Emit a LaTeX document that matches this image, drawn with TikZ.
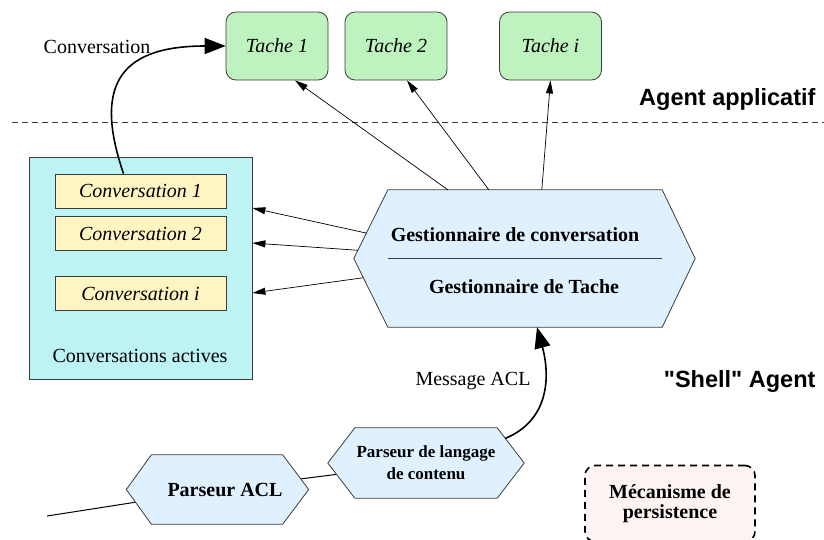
\documentclass[tikz,border=0pt]{standalone}
\usepackage{fontspec}
\setmainfont{Liberation Serif}
\newfontfamily\labelsans{Liberation Sans}
\usetikzlibrary{arrows.meta,calc,backgrounds}
\pgfdeclarelayer{edges}
\pgfsetlayers{edges,background,main}

\definecolor{taskgreen}{RGB}{190,242,190}
\definecolor{convyellow}{RGB}{255,245,195}
\definecolor{activecyan}{RGB}{190,243,243}
\definecolor{hexblue}{RGB}{223,241,255}
\definecolor{persistpink}{RGB}{253,243,243}
\definecolor{edgegray}{RGB}{60,60,60}

\begin{document}
\begin{tikzpicture}[x=1pt,y=-1pt,
  every node/.style={font=\fontsize{20}{24}\selectfont},
  task/.style={draw=edgegray, fill=taskgreen, rounded corners=10pt,
    minimum width=102pt, minimum height=68pt, line width=0.8pt,
    font=\fontsize{20}{24}\selectfont\itshape},
  conv/.style={draw=edgegray, fill=convyellow, minimum width=171pt,
    minimum height=34pt, inner sep=0pt, line width=0.8pt,
    font=\fontsize{20}{24}\selectfont\itshape},
  hexcore/.style={inner sep=0pt},
  hexfill/.style={draw=edgegray, fill=hexblue, line width=0.8pt},
  side label/.style={anchor=east, font=\labelsans\bfseries\fontsize{23.5}{28}\selectfont},
  thin arrow/.style={-{Triangle[length=13pt,width=7pt]}, line width=0.7pt},
  thick arrow/.style={-{Triangle[length=21pt,width=16pt]}, line width=1.6pt},
  plain edge/.style={line width=1pt},
]
\useasboundingbox (0,0) rectangle (824,539);

% application agent: tasks
\node[task] (t1) at (277,46) {Tache 1};
\node[task] (t2) at (396,46) {Tache 2};
\node[task] (ti) at (550.5,46) {Tache i};

% boundary between the application agent and the shell agent
\draw[edgegray, line width=0.8pt, dash pattern=on 6pt off 4pt] (12,122) -- (824,122);
\node[side label] (applabel) at (819,99) {Agent applicatif};
\node[side label] (shelllabel) at (819,381) {\char"22 Shell\char"22{} Agent};

% active conversations
\node[draw=edgegray, fill=activecyan, line width=0.8pt,
      minimum width=223pt, minimum height=222pt] (active) at (140.5,268) {};
\node[conv] (c1) at (140.5,191) {Conversation 1};
\node[conv] (c2) at (140.5,233.5) {Conversation 2};
\node[conv] (ci) at (140.5,293.5) {Conversation i};
\node (activelabel) at (140,356) {Conversations actives};

% conversation and task manager
\node[hexcore, minimum width=274pt, minimum height=137pt] (gest) at (525,258.5) {};
\coordinate (gestL) at ([xshift=-34pt]gest.west);
\coordinate (gestR) at ([xshift=33pt]gest.east);
\begin{pgfonlayer}{background}
  \draw[hexfill] (gest.north west) -- (gest.north east) -- (gestR)
    -- (gest.south east) -- (gest.south west) -- (gestL) -- cycle;
\end{pgfonlayer}
\node[font=\fontsize{20}{24}\selectfont\bfseries] (gconv) at (515,235) {Gestionnaire de conversation};
\node[font=\fontsize{20}{24}\selectfont\bfseries] (gtask) at (524,287) {Gestionnaire de Tache};
\draw[edgegray, line width=0.8pt] (gest.west) -- (gest.east);

% parsers
\node[hexcore, minimum width=142pt, minimum height=70pt, align=center,
      font=\fontsize{17}{22}\selectfont\bfseries] (lang) at (426,463)
      {Parseur de langage\\de contenu};
\coordinate (langL) at ([xshift=-27pt]lang.west);
\coordinate (langR) at ([xshift=27pt]lang.east);
\node[hexcore, minimum width=120pt, minimum height=69pt,
      font=\fontsize{20}{24}\selectfont\bfseries] (acl) at (217,489.5)
      {\hspace*{16pt}Parseur ACL};
\coordinate (aclL) at ([xshift=-25pt]acl.west);
\coordinate (aclR) at ([xshift=26pt]acl.east);
\begin{pgfonlayer}{background}
  \draw[hexfill] (lang.north west) -- (lang.north east) -- (langR)
    -- (lang.south east) -- (lang.south west) -- (langL) -- cycle;
  \draw[hexfill] (acl.north west) -- (acl.north east) -- (aclR)
    -- (acl.south east) -- (acl.south west) -- (aclL) -- cycle;
\end{pgfonlayer}

% persistence
\node[draw=black, fill=persistpink, rounded corners=10pt, line width=1.6pt,
      dash pattern=on 7pt off 5pt, minimum width=170pt, minimum height=76pt,
      align=center, font=\fontsize{20}{19.5}\selectfont\bfseries]
      (persist) at (670,503.5) {M\'ecanisme de\\persistence};

% incoming message path
\coordinate (incoming) at (47,516);
\begin{pgfonlayer}{edges}
  \draw[plain edge] (incoming) -- (acl.center);
  \draw[plain edge] (acl.center) -- (lang.center);
\end{pgfonlayer}
\draw[thick arrow] ($(lang.north east)!0.3!(langR)$)
  .. controls (550,420) and (550,375) .. ([xshift=12pt]gest.south);
\node (msglabel) at (473,381) {Message ACL};

% manager to conversations
\draw[thin arrow] ($(gest.north west)!0.63!(gestL)$) -- ([yshift=60pt]active.east);
\draw[thin arrow] ($(gest.north west)!0.88!(gestL)$) -- ([yshift=25pt]active.east);
\draw[thin arrow] ($(gestL)!0.28!(gest.south west)$) -- ([yshift=-25pt]active.east);

% manager to tasks
\draw[thin arrow] ([xshift=60pt]gest.north west) -- ([xshift=18pt]t1.south);
\draw[thin arrow] ([xshift=101pt]gest.north west) -- ([xshift=11pt]t2.south);
\draw[thin arrow] ([xshift=154pt]gest.north west) -- (ti.south);

% conversation handed over to a task
\draw[thick arrow] ([xshift=-17pt]c1.north) .. controls (95,90) and (115,46) .. (t1.west);
\node (convlabel) at (97,47) {Conversation};
\end{tikzpicture}
\end{document}
